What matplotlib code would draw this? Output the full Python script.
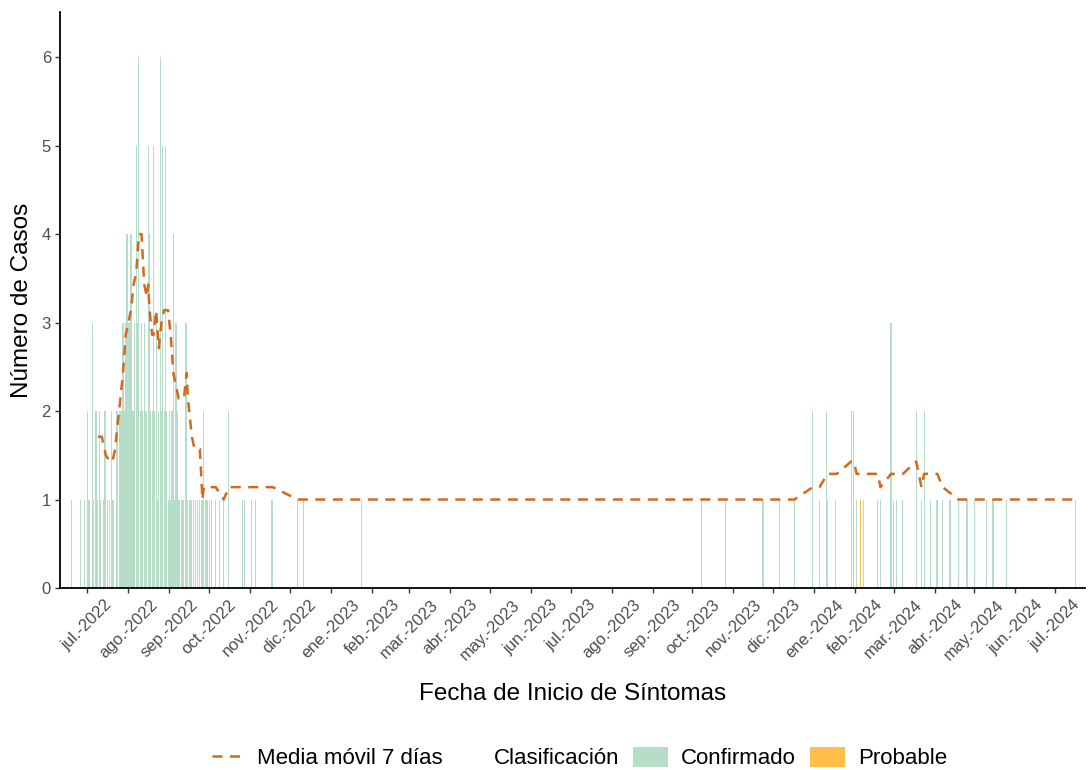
import pandas as pd
import matplotlib
matplotlib.use("Agg")
import matplotlib.pyplot as plt
from matplotlib.lines import Line2D
from matplotlib.patches import Patch

plt.rcParams['font.family'] = ['Liberation Sans', 'DejaVu Sans']

# Casos confirmados por día (pico de jul-sep 2022, un valor por día)
jul_2022 = [2, 1, 1, 0, 3, 1, 2, 2, 1, 2, 1, 0, 1, 2, 2, 1, 0, 1, 2, 1, 1, 0,
            2, 2, 2, 2, 2, 3, 2, 3, 4]
aug_2022 = [3, 3, 4, 2, 2, 3, 5, 3, 6, 2, 3, 2, 3, 2, 2, 5, 4, 2, 2, 5, 2, 3,
            1, 2, 6, 2, 5, 2, 5, 2, 1]
sep_2022 = [2, 1, 2, 4, 1, 3, 2, 1, 1, 1, 1, 1, 3, 3, 1, 1, 1, 1, 1, 0, 1, 1,
            0, 1, 1, 1, 2, 1, 1, 1]

# Casos confirmados en días sueltos
sparse_dates = ['2022-06-19', '2022-06-26', '2022-06-29',
                '2022-10-01', '2022-10-03', '2022-10-06', '2022-10-09', '2022-10-12', '2022-10-16',
                '2022-10-26', '2022-10-28', '2022-11-02', '2022-11-05', '2022-11-17', '2022-11-18',
                '2022-12-07', '2022-12-11', '2023-01-24',
                '2023-10-08', '2023-10-26', '2023-11-23', '2023-11-24', '2023-12-06', '2023-12-17',
                '2023-12-31', '2024-01-05', '2024-01-10', '2024-01-11', '2024-01-17', '2024-01-29',
                '2024-01-31', '2024-02-02', '2024-02-07', '2024-02-18', '2024-02-20', '2024-02-28',
                '2024-03-01', '2024-03-03', '2024-03-08', '2024-03-18', '2024-03-22', '2024-03-24',
                '2024-03-29', '2024-04-02', '2024-04-03', '2024-04-07', '2024-04-12', '2024-04-13',
                '2024-04-19', '2024-04-25', '2024-04-26', '2024-05-01', '2024-05-10', '2024-05-15',
                '2024-05-25', '2024-07-16']
sparse_counts = [1, 1, 1,
                 1, 1, 1, 1, 1, 2,
                 1, 1, 1, 1, 1, 1,
                 1, 1, 1,
                 1, 1, 1, 1, 1, 1,
                 2, 1, 2, 1, 1, 2,
                 2, 1, 1, 1, 1, 3,
                 1, 1, 1, 2, 1, 2,
                 1, 1, 1, 1, 1, 1,
                 1, 1, 1, 1, 1, 1,
                 1, 1]

# Casos probables
prob_dates = ['2024-02-05']
prob_counts = [1]

# Media móvil 7 días (vértices)
ma_dates = ['2022-07-09', '2022-07-12', '2022-07-15', '2022-07-18', '2022-07-20', '2022-07-22',
            '2022-07-24', '2022-07-26', '2022-07-28', '2022-07-30', '2022-08-01', '2022-08-03',
            '2022-08-05', '2022-08-07', '2022-08-09', '2022-08-11', '2022-08-12', '2022-08-13',
            '2022-08-15', '2022-08-16', '2022-08-17', '2022-08-19', '2022-08-20', '2022-08-22',
            '2022-08-24', '2022-08-26', '2022-08-28', '2022-08-31', '2022-09-02', '2022-09-04',
            '2022-09-06', '2022-09-08', '2022-09-12', '2022-09-14', '2022-09-15', '2022-09-18',
            '2022-09-20', '2022-09-24', '2022-09-25', '2022-09-26', '2022-09-27', '2022-10-03',
            '2022-10-06', '2022-10-12', '2022-10-16', '2022-11-18', '2022-12-07', '2023-12-17',
            '2023-12-31', '2024-01-05', '2024-01-11', '2024-01-18', '2024-01-29', '2024-01-31',
            '2024-02-02', '2024-02-18', '2024-02-20', '2024-02-28', '2024-03-08', '2024-03-18',
            '2024-03-22', '2024-03-24', '2024-04-03', '2024-04-07', '2024-04-19', '2024-07-16']
ma_values = [1.71, 1.71, 1.50, 1.43, 1.43, 1.57, 1.86, 2.14, 2.43, 2.86, 3.00, 3.14,
             3.43, 3.57, 4.00, 4.00, 3.71, 3.43, 3.29, 3.43, 3.14, 2.86, 2.86, 3.14,
             2.71, 3.00, 3.14, 3.14, 2.86, 2.43, 2.29, 2.14, 2.14, 2.43, 2.14, 1.71,
             1.57, 1.57, 1.29, 1.00, 1.14, 1.14, 1.14, 1.00, 1.14, 1.14, 1.00, 1.00,
             1.14, 1.14, 1.29, 1.29, 1.43, 1.43, 1.29, 1.29, 1.14, 1.29, 1.29, 1.43,
             1.14, 1.29, 1.29, 1.14, 1.00, 1.00]

month_labels = ['jul.-2022', 'ago.-2022', 'sep.-2022', 'oct.-2022', 'nov.-2022', 'dic.-2022',
                'ene.-2023', 'feb.-2023', 'mar.-2023', 'abr.-2023', 'may.-2023', 'jun.-2023',
                'jul.-2023', 'ago.-2023', 'sep.-2023', 'oct.-2023', 'nov.-2023', 'dic.-2023',
                'ene.-2024', 'feb.-2024', 'mar.-2024', 'abr.-2024', 'may.-2024', 'jun.-2024',
                'jul.-2024']

GREEN = '#B5DDC7'
ORANGE = '#FFBF4A'
LINE_C = '#D2691E'
TICK_C = '#4D4D4D'

conf = pd.concat([
    pd.Series(jul_2022, index=pd.date_range('2022-07-01', periods=len(jul_2022))),
    pd.Series(aug_2022, index=pd.date_range('2022-08-01', periods=len(aug_2022))),
    pd.Series(sep_2022, index=pd.date_range('2022-09-01', periods=len(sep_2022))),
    pd.Series(sparse_counts, index=pd.to_datetime(sparse_dates)),
]).sort_index()
conf = conf[conf > 0]

fig = plt.figure(figsize=(10.88, 7.70), dpi=100)
ax = fig.add_axes([60 / 1088, 1 - 588 / 770, 1025 / 1088, 576 / 770])

ax.bar(conf.index, conf.values, width=0.8, color=GREEN, linewidth=0)
ax.bar(pd.to_datetime(prob_dates), prob_counts, width=0.8, color=ORANGE, linewidth=0)
ax.plot(pd.to_datetime(ma_dates), ma_values, color=LINE_C, lw=1.8, dashes=(4, 3))

# Ejes
t0 = pd.Timestamp('2022-07-01')
ax.set_xlim(t0 - pd.Timedelta(days=20.6), t0 + pd.Timedelta(days=753.5))
ax.set_ylim(0, 6.51)
ax.set_yticks(range(0, 7))

month_ticks = pd.date_range('2022-07-01', '2024-07-01', freq='MS')
ax.set_xticks(month_ticks)
ax.set_xticklabels(month_labels, rotation=45, ha='center', va='top')

for side in ['top', 'right']:
    ax.spines[side].set_visible(False)
for side in ['left', 'bottom']:
    ax.spines[side].set_linewidth(1.3)
    ax.spines[side].set_color('black')

ax.tick_params(axis='both', length=3.5, width=1.0, color='#333333',
               labelcolor=TICK_C, labelsize=12, pad=3)

ax.set_xlabel('Fecha de Inicio de Síntomas', fontsize=17.5, va='center')
ax.xaxis.set_label_coords(0.5, -0.184)
ax.set_ylabel('Número de Casos', fontsize=17.5, va='center')
ax.yaxis.set_label_coords(-0.037, 0.5)

# Leyenda inferior
leg_y = 12 / 770
leg1 = fig.legend(handles=[Line2D([], [], color=LINE_C, lw=1.8, dashes=(4, 3))],
                  labels=['Media móvil 7 días'], loc='center left',
                  bbox_to_anchor=(212 / 1088, leg_y), frameon=False, fontsize=16,
                  handlelength=1.35, handletextpad=0.68, borderpad=0, borderaxespad=0)
fig.text(494 / 1088, leg_y, 'Clasificación', fontsize=16, va='center', ha='left')
leg2 = fig.legend(handles=[Patch(facecolor=GREEN, edgecolor='none'),
                           Patch(facecolor=ORANGE, edgecolor='none')],
                  labels=['Confirmado', 'Probable'], loc='center left', ncol=2,
                  bbox_to_anchor=(633 / 1088, leg_y), frameon=False, fontsize=16,
                  handlelength=1.58, handleheight=1.0, handletextpad=0.59,
                  columnspacing=0.63, borderpad=0, borderaxespad=0)

fig.savefig('out.png', dpi=100)
